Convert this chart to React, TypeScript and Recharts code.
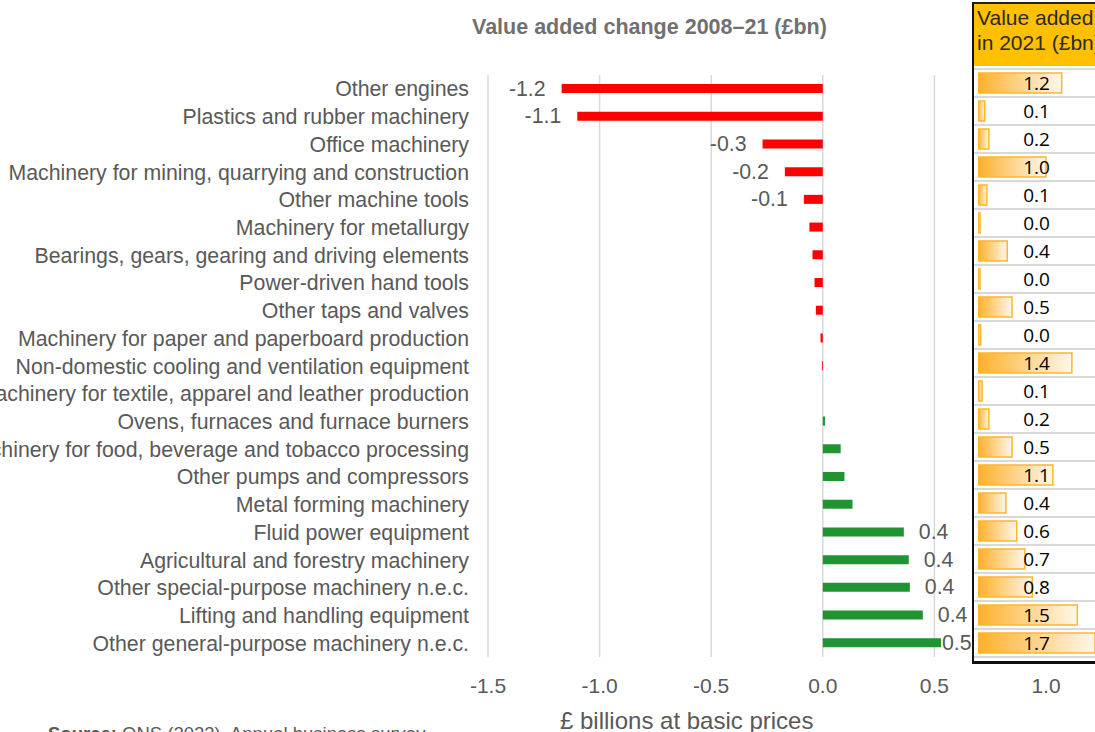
import React from 'react';
import { BarChart, Bar, XAxis, YAxis, CartesianGrid, Cell, LabelList } from 'recharts';

const categories = [
  'Other engines',
  'Plastics and rubber machinery',
  'Office machinery',
  'Machinery for mining, quarrying and construction',
  'Other machine tools',
  'Machinery for metallurgy',
  'Bearings, gears, gearing and driving elements',
  'Power-driven hand tools',
  'Other taps and valves',
  'Machinery for paper and paperboard production',
  'Non-domestic cooling and ventilation equipment',
  'Machinery for textile, apparel and leather production',
  'Ovens, furnaces and furnace burners',
  'Machinery for food, beverage and tobacco processing',
  'Other pumps and compressors',
  'Metal forming machinery',
  'Fluid power equipment',
  'Agricultural and forestry machinery',
  'Other special-purpose machinery n.e.c.',
  'Lifting and handling equipment',
  'Other general-purpose machinery n.e.c.',
];

// value added change 2008-21, £bn
const change = [
  -1.17, -1.1, -0.27, -0.17, -0.085, -0.06, -0.046, -0.037, -0.031, -0.01, -0.004,
  0, 0.01, 0.08, 0.097, 0.133, 0.363, 0.385, 0.39, 0.448, 0.53,
];

// only some bars carry a label in the original
const changeLabels = [
  '-1.2', '-1.1', '-0.3', '-0.2', '-0.1', '', '', '', '', '', '',
  '', '', '', '', '', '0.4', '0.4', '0.4', '0.4', '0.5',
];

// value added in 2021, £bn
const valueAdded2021 = [
  1.23, 0.1, 0.16, 1.0, 0.13, 0.03, 0.43, 0.03, 0.5, 0.04, 1.38,
  0.06, 0.16, 0.5, 1.1, 0.41, 0.57, 0.69, 0.8, 1.46, 1.72,
];

const xTicks = [-1.5, -1.0, -0.5, 0, 0.5, 1.0];

const FONT = "'Liberation Sans', Arial, sans-serif";
const GREY = '#595959';
const RED = '#ff0000';
const GREEN = '#1f9430';
const AMBER = '#ffb628';

const changeData = categories.map((name, i) => ({ name, change: change[i], label: changeLabels[i] }));
const panelData = categories.map((name, i) => ({ name, value: valueAdded2021[i] }));

const renderChangeLabel = (p: any) => {
  if (!p.value) return null;
  const left = Math.min(p.x, p.x + p.width);
  const right = Math.max(p.x, p.x + p.width);
  const cy = p.y + p.height / 2;
  const neg = String(p.value).startsWith('-');
  return (
    <text
      x={neg ? left - 16 : Math.min(right + 15, 942)}
      y={cy}
      textAnchor={neg ? 'end' : 'start'}
      dominantBaseline="central"
      fontSize={21.3}
      fontFamily={FONT}
      fill={GREY}
    >
      {p.value}
    </text>
  );
};

const PANEL_W = 117;

const renderPanelLabel = (p: any) => (
  <text
    x={PANEL_W / 2}
    y={p.y + p.height / 2}
    textAnchor="middle"
    dominantBaseline="central"
    fontSize={19}
    fontFamily="'Open Sans', 'Noto Sans', sans-serif"
    fill="#000"
  >
    {Number(p.value).toFixed(1)}
  </text>
);

function ValuePanel() {
  return (
    <div
      style={{
        position: 'absolute',
        left: 972,
        top: 2,
        width: 140,
        height: 657,
        background: '#fff',
        borderLeft: '2px solid #111',
        borderTop: '2px solid #222',
        borderBottom: '3px solid #111',
        boxSizing: 'content-box',
      }}
    >
      <div
        style={{
          height: 62,
          background: '#ffc000',
          color: '#2b2b2b',
          fontFamily: FONT,
          fontSize: 21,
          lineHeight: '25px',
          padding: '1px 0 0 3px',
          boxSizing: 'border-box',
          whiteSpace: 'nowrap',
        }}
      >
        Value added
        <br />
        in 2021 (£bn)
      </div>
      <div style={{ position: 'absolute', top: 64, left: 0, width: '100%' }}>
        {categories.map((c) => (
          <div
            key={c}
            style={{ height: 28, borderTop: '2px solid #d9d9d9', boxSizing: 'border-box' }}
          />
        ))}
        <div style={{ height: 2, background: '#d9d9d9' }} />
      </div>
      <div style={{ position: 'absolute', top: 65, left: 4 }}>
        <BarChart
          width={PANEL_W}
          height={588}
          data={panelData}
          layout="vertical"
          margin={{ top: 0, right: 0, bottom: 0, left: 0 }}
          barSize={20}
          style={{ overflow: 'visible' }}
        >
          <defs>
            <linearGradient id="dataBar" x1="0" y1="0" x2="1" y2="0">
              <stop offset="0%" stopColor="#fdb02a" />
              <stop offset="100%" stopColor="#fff7ea" />
            </linearGradient>
          </defs>
          <XAxis type="number" hide domain={[0, 1.72]} allowDataOverflow />
          <YAxis type="category" dataKey="name" hide />
          <Bar
            dataKey="value"
            fill="url(#dataBar)"
            stroke={AMBER}
            strokeWidth={1.5}
            isAnimationActive={false}
          >
            <LabelList dataKey="value" content={renderPanelLabel} />
          </Bar>
        </BarChart>
      </div>
    </div>
  );
}

export default function App() {
  return (
    <div
      style={{
        position: 'absolute',
        left: 0,
        top: 0,
        width: 1095,
        height: 732,
        overflow: 'hidden',
        background: '#fff',
        fontFamily: FONT,
      }}
    >
      <div
        style={{
          position: 'absolute',
          left: 472,
          top: 15,
          fontSize: 21.5,
          fontWeight: 'bold',
          color: '#707070',
          whiteSpace: 'nowrap',
        }}
      >
        Value added change 2008–21 (£bn)
      </div>

      <div style={{ position: 'absolute', left: 0, top: 0 }}>
        <BarChart
          width={1095}
          height={700}
          data={changeData}
          layout="vertical"
          margin={{ top: 75, right: 49, bottom: 0, left: 0 }}
          barSize={9}
        >
          <CartesianGrid horizontal={false} stroke="#d9d9d9" strokeWidth={1.5} />
          <XAxis
            type="number"
            domain={[-1.5, 1.0]}
            ticks={xTicks}
            tickFormatter={(v: number) => v.toFixed(1)}
            axisLine={false}
            tickLine={false}
            tickMargin={15}
            height={43}
            tick={{ fontSize: 21, fill: GREY, fontFamily: FONT }}
          />
          <YAxis
            type="category"
            dataKey="name"
            width={488}
            axisLine={false}
            tickLine={false}
            tickMargin={13}
            interval={0}
            tick={{ fontSize: 21.3, fill: GREY, fontFamily: FONT }}
          />
          <Bar dataKey="change" isAnimationActive={false}>
            {changeData.map((d) => (
              <Cell key={d.name} fill={d.change < 0 ? RED : GREEN} />
            ))}
            <LabelList dataKey="label" content={renderChangeLabel} />
          </Bar>
        </BarChart>
      </div>

      <ValuePanel />

      <div
        style={{
          position: 'absolute',
          left: 560,
          top: 707,
          fontSize: 24,
          color: GREY,
          whiteSpace: 'nowrap',
        }}
      >
        £ billions at basic prices
      </div>

      <div
        style={{
          position: 'absolute',
          left: 48,
          top: 723,
          fontSize: 18.5,
          color: GREY,
          whiteSpace: 'nowrap',
        }}
      >
        <b>Source:</b> ONS (2023), Annual business survey
      </div>
    </div>
  );
}
